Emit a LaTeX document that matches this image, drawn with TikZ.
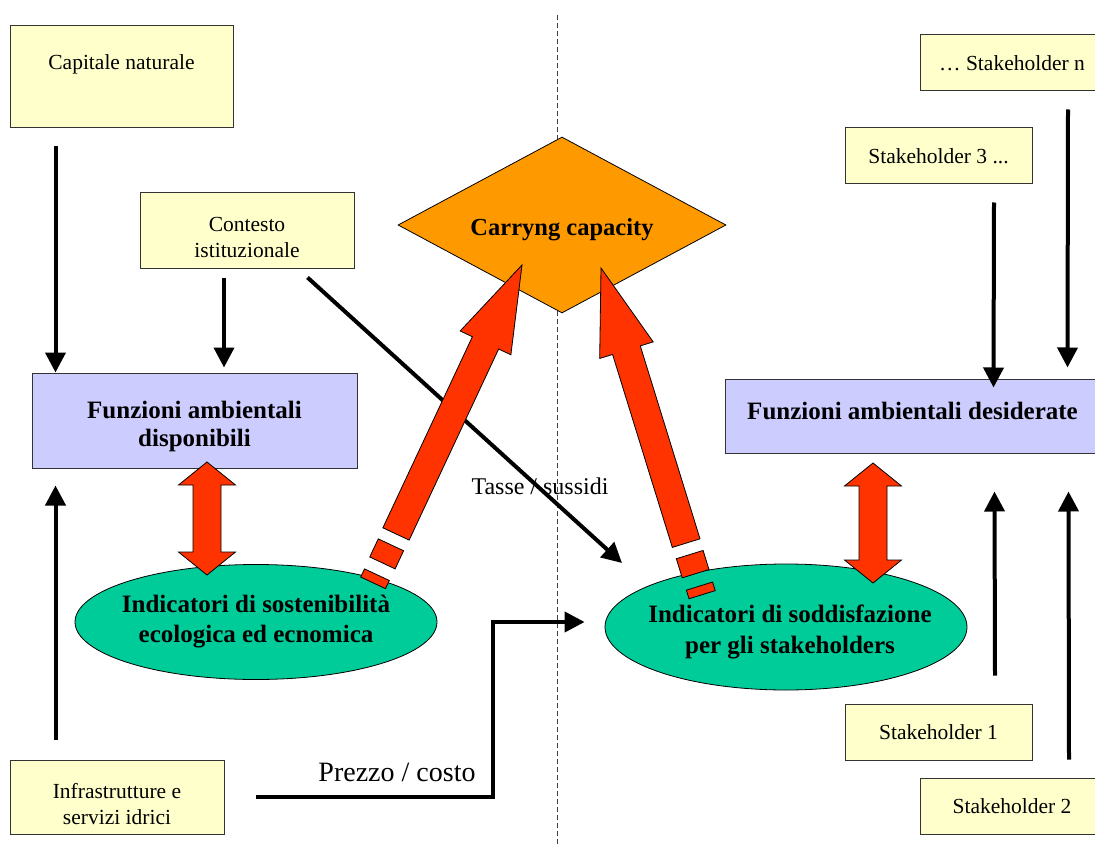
\documentclass[tikz,border=0pt]{standalone}
\usepackage{fontspec}
\setmainfont{Liberation Serif}
\usetikzlibrary{arrows.meta,shapes.geometric,calc}
\definecolor{yfill}{HTML}{FFFFCC}
\definecolor{lfill}{HTML}{CCCCFF}
\definecolor{gfill}{HTML}{00CC99}
\definecolor{rfill}{HTML}{FF3300}
\definecolor{ofill}{HTML}{FF9900}
\newcommand\redDbl[3]{%
  \draw[redshape] (#1,#2) -- ++(28.5,23) -- ++(-14.5,0) -- ($(#1,#3)+(14,-23)$) -- ++(14.5,0)
    -- (#1,#3) -- ++(-28.5,-23) -- ++(14.5,0) -- ($(#1,#2)+(-14,23)$) -- ++(-14.5,0) -- cycle;}
\newcommand\bigRed[3]{% tip, angle, shaft length
  \begin{scope}[shift={#1}, rotate=#2]
    \draw[redshape] (0,0) -- (-86,28) -- (-86,14.5) -- (-#3,14.5) -- (-#3,-14.5) -- (-86,-14.5) -- (-86,-28) -- cycle;
    \draw[redshape] ($(-#3,-14)+(-12,0)$) rectangle ($(-#3,14)+(-32,0)$);
    \draw[redshape] ($(-#3,-13.7)+(-45,0)$) rectangle ($(-#3,13.7)+(-54,0)$);
  \end{scope}}
\begin{document}
\begin{tikzpicture}[x=1pt,y=-1pt,
  ybox/.style={draw=black!80, line width=1pt, fill=yfill, inner sep=0pt, align=center,
    font=\fontsize{21.5}{26}\selectfont},
  lbox/.style={draw=black!80, line width=1pt, fill=lfill, inner sep=0pt, align=center,
    font=\bfseries\fontsize{25}{28}\selectfont},
  ell/.style={shape=ellipse, draw=black, line width=0.8pt, fill=gfill, inner xsep=-25pt, inner ysep=0pt, align=center,
    font=\bfseries\fontsize{25}{30}\selectfont},
  redshape/.style={draw=black, line width=0.8pt, fill=rfill, line join=miter},
  arr/.style={line width=4pt, -{Triangle[length=20pt,width=20pt]}},
  lab/.style={inner sep=0pt}
]
\useasboundingbox (0,0) rectangle (1095,845);
\draw[black!75, line width=1pt, dash pattern=on 5pt off 3pt] (557,15) -- (557,845);

% boxes
\node[ybox, minimum width=223, minimum height=102, text depth=30.5pt] (capn) at (121.5,77) {Capitale naturale};
\node[ybox, minimum width=214, minimum height=75, text height=54.6pt] (cont) at (247,230.5) {Contesto\\istituzionale};
\node[ybox, minimum width=214, minimum height=74, text height=54.6pt] (infra) at (117,797) {Infrastrutture e\\servizi idrici};
\node[ybox, minimum width=184, minimum height=56] (sn) at (1012,63) {\dots\ Stakeholder n};
\node[ybox, minimum width=187, minimum height=56] (s3) at (938.5,156) {Stakeholder 3 ...};
\node[ybox, minimum width=187, minimum height=56] (s1) at (938.5,732) {Stakeholder 1};
\node[ybox, minimum width=184, minimum height=56] (s2) at (1012,806) {Stakeholder 2};
\node[lbox, minimum width=325, minimum height=95, text height=57pt] (funzA) at (194.5,420.5) {Funzioni ambientali\\disponibili};
\node[lbox, minimum width=375, minimum height=74, text depth=10pt] (funzD) at (912.5,416) {Funzioni ambientali desiderate};

% diamond
\node[shape=diamond, draw=black, line width=0.8pt, fill=ofill, inner sep=-60pt, text height=26pt,
  minimum width=328, minimum height=176, font=\bfseries\fontsize{24.5}{28}\selectfont] (cc) at (562,225) {Carryng capacity};

% ellipses
\node[ell, minimum width=362, minimum height=115] (indE) at (256,622) {Indicatori di sostenibilità\\ecologica ed ecnomica};
\node[ell, minimum width=362, minimum height=126, text height=58pt, font=\bfseries\fontsize{25}{31}\selectfont] (indS) at (786,627)
  {\hspace*{8pt}Indicatori di soddisfazione\\\hspace*{8pt}per gli stakeholders};

% black connectors
\draw[arr] ([xshift=46pt,yshift=-18pt]capn.south west) -- ([xshift=24pt]funzA.north west);
\draw[arr] ([xshift=-23pt,yshift=-9pt]cont.south) -- ([xshift=29.5pt,yshift=5pt]funzA.north);
\draw[arr] ([xshift=46pt,yshift=20pt]infra.north west) -- ([xshift=24pt,yshift=-17pt]funzA.south west);
\coordinate (tsTip) at ([xshift=-164pt,yshift=64pt]indS.center);
\draw[arr] ([xshift=-47pt,yshift=-9pt]cont.south east) -- (tsTip);
\coordinate (pzTip) at ([xshift=-20pt,yshift=5pt]indS.west);
\draw[arr, line join=miter] ([xshift=31pt]infra.east) -- ++(237,0) |- (pzTip);
\draw[arr] ([xshift=55.5pt,yshift=-18pt]s3.south) -- ([xshift=269pt,yshift=-9pt]funzD.north west);
\draw[arr] ([xshift=56pt,yshift=-18pt]sn.south) -- ([xshift=343pt,yshift=11pt]funzD.north west);
\draw[arr] ([xshift=56.5pt,yshift=28pt]s1.north) -- ([xshift=270pt,yshift=-38pt]funzD.south west);
\draw[arr] ([xshift=57pt,yshift=18pt]s2.north) -- ([xshift=344pt,yshift=-38pt]funzD.south west);

% red arrows
\redDbl{207}{462}{575}
\redDbl{873}{463}{583}
\bigRed{(522,265)}{64.9}{297}
\bigRed{(601,268)}{107.2}{288}

% labels
\node[lab, font=\fontsize{24}{28}\selectfont] (tasse) at (540,486) {Tasse / sussidi};
\node[lab, font=\fontsize{28}{32}\selectfont] (prezzo) at (397,772) {Prezzo / costo};
\end{tikzpicture}
\end{document}
